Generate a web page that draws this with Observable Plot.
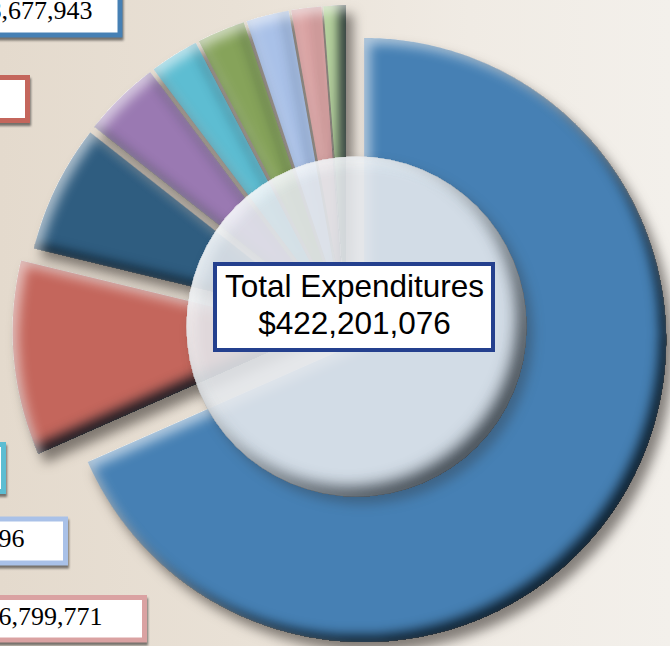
<!DOCTYPE html>
<html>
<head>
<meta charset="utf-8">
<script src="https://cdn.jsdelivr.net/npm/d3@7"></script>
<script src="https://cdn.jsdelivr.net/npm/@observablehq/plot@0.6"></script>
<style>
  html, body { margin: 0; padding: 0; background: #ebe4da; }
  #chart svg { display: block; }
</style>
</head>
<body>
<div id="chart"></div>
<script>
// ---- data ----
const categories = ["Slice A", "Slice B", "Slice C", "Slice D", "Slice E", "Slice F", "Slice G", "Slice H", "Slice I"];
const values = [288677943, 43912410, 28850125, 17420380, 11080215, 10850640, 9612396, 6799771, 4997196];
const colors = ["#4680b4", "#c4665c", "#2f5d80", "#9a79b2", "#5dbdd2", "#86a35a", "#a9c1e8", "#daa2a2", "#b7d49d"];
const totalTitle = "Total Expenditures";
// label boxes (index into categories) visible along the left edge
const labelIndex = [0, 1, 4, 6, 7];

// ---- layout ----
const W = 670, H = 646;
const CX = 346, CY = 328, R = 302;
const explode = [21, 32, 21, 21, 21, 21, 21, 21, 21];
const RING = {x: 356, y: 326, r: 170};
const boxLayout = [
  {x2: 120, y1: -20, y2: 35, tx: 92, ty: 10, text: true},
  {x2: 27.5, y1: 77.5, y2: 120.5, text: false},
  {x2: 3.5, y1: 444.5, y2: 491.5, text: false},
  {x2: 65.5, y1: 519, y2: 563, tx: 24, ty: 538.4, text: true},
  {x2: 144.5, y1: 597.5, y2: 640, tx: 102, ty: 615.7, text: true}
];

const fmt = d3.format("$,");
const total = d3.sum(values);

// slice outlines from the values (angles clockwise from 12 o'clock)
const pts = [];
let acc = 0;
values.forEach((v, i) => {
  const a0 = acc / total * 2 * Math.PI;
  const a1 = (acc + v) / total * 2 * Math.PI;
  acc += v;
  const mid = (a0 + a1) / 2;
  const ox = CX + explode[i] * Math.sin(mid);
  const oy = CY - explode[i] * Math.cos(mid);
  pts.push({k: categories[i], x: ox, y: oy});
  const n = Math.max(4, Math.ceil((a1 - a0) / (Math.PI / 360)));
  for (let j = 0; j <= n; j++) {
    const a = a0 + (a1 - a0) * j / n;
    pts.push({k: categories[i], x: ox + R * Math.sin(a), y: oy - R * Math.cos(a)});
  }
});

const boxes = labelIndex.map((idx, j) => ({
  cat: categories[idx],
  label: fmt(values[idx]),
  x1: -400,
  ...boxLayout[j]
}));

const svg = Plot.plot({
  width: W,
  height: H,
  margin: 0,
  x: {domain: [0, W], range: [0, W], axis: null},
  y: {domain: [0, H], range: [0, H], axis: null},
  color: {domain: categories, range: colors},
  style: {
    background: "linear-gradient(to right, #e4dacd 0%, #e9e1d6 35%, #f0ebe4 70%, #f3f0eb 100%)",
    overflow: "hidden"
  },
  marks: [
    Plot.line(pts, {x: "x", y: "y", z: "k", fill: "k", stroke: "none", curve: "linear-closed"}),
    Plot.dot([RING], {x: "x", y: "y", r: RING.r, fill: "#eef3f8", fillOpacity: 0.84, stroke: "none"}),
    Plot.rect([{x1: 215, x2: 493, y1: 264, y2: 350}], {x1: "x1", x2: "x2", y1: "y1", y2: "y2", fill: "white", stroke: "#24408e", strokeWidth: 4}),
    Plot.text([totalTitle + "\n" + fmt(total)], {
      x: () => RING.x - 2, y: () => 303.5, text: d => d,
      fontSize: 31.5, fontFamily: "Liberation Sans, Arial, sans-serif", fill: "black", lineHeight: 1.18
    }),
    Plot.rect(boxes, {x1: "x1", x2: "x2", y1: "y1", y2: "y2", fill: "white", stroke: "cat", strokeWidth: 5}),
    Plot.text(boxes.filter(d => d.text), {
      x: "tx", y: "ty", text: "label", textAnchor: "end",
      fontSize: 26, fontFamily: "Liberation Serif, Times New Roman, serif", fill: "black"
    })
  ]
});

// 3D effects: bevel + drop shadows (alpha is made solid first so translucent fills bevel only at their rims)
const bevel = (id, o) => `
<filter id="${id}" x="-20%" y="-20%" width="140%" height="140%" color-interpolation-filters="sRGB">
  <feComponentTransfer in="SourceAlpha" result="solid"><feFuncA type="linear" slope="20"/></feComponentTransfer>
  <feGaussianBlur in="solid" stdDeviation="${o.ds}" result="dsBlur"/>
  <feOffset in="dsBlur" dx="${o.dsx}" dy="${o.dsy}" result="dsOff"/>
  <feFlood flood-color="#2a2520" flood-opacity="${o.dsa}"/>
  <feComposite in2="dsOff" operator="in" result="drop"/>
  <feComponentTransfer in="solid" result="inv"><feFuncA type="table" tableValues="1 0"/></feComponentTransfer>
  <feGaussianBlur in="inv" stdDeviation="${o.blur}" result="invBlur"/>
  <feOffset in="invBlur" dx="${-o.dk}" dy="${-o.dk}" result="invDark"/>
  <feFlood flood-color="${o.dkc}" flood-opacity="${o.dka}"/>
  <feComposite in2="invDark" operator="in"/>
  <feComposite in2="solid" operator="in" result="inDark"/>
  <feOffset in="invBlur" dx="${o.lt}" dy="${o.lt}" result="invLight"/>
  <feFlood flood-color="#ffffff" flood-opacity="${o.lta}"/>
  <feComposite in2="invLight" operator="in"/>
  <feComposite in2="solid" operator="in" result="inLight"/>
  <feMerge><feMergeNode in="drop"/><feMergeNode in="SourceGraphic"/><feMergeNode in="inDark"/><feMergeNode in="inLight"/></feMerge>
</filter>`;
const defs = d3.select(svg).insert("defs", ":first-child");
defs.html(
  bevel("bevel", {ds: 6, dsx: 7, dsy: 9, dsa: 0.55, blur: 6, dk: 7, dkc: "#05101a", dka: 0.85, lt: 6, lta: 0.6}) +
  bevel("ringBevel", {ds: 6, dsx: 6, dsy: 7, dsa: 0.3, blur: 8, dk: 9, dkc: "#2a333c", dka: 0.9, lt: 5, lta: 0.6}) +
  `<filter id="boxShadow" x="-20%" y="-20%" width="140%" height="160%" color-interpolation-filters="sRGB">
     <feDropShadow dx="1" dy="3" stdDeviation="1" flood-color="#1a1a1a" flood-opacity="0.55"/>
   </filter>`
);
const root = d3.select(svg);
root.select('g[aria-label="line"]').attr("filter", "url(#bevel)");
root.select('g[aria-label="dot"]').attr("filter", "url(#ringBevel)");
const rectGroups = root.selectAll('g[aria-label="rect"]').nodes();
if (rectGroups.length > 1) d3.select(rectGroups[1]).attr("filter", "url(#boxShadow)");

document.getElementById("chart").appendChild(svg);
</script>
</body>
</html>
